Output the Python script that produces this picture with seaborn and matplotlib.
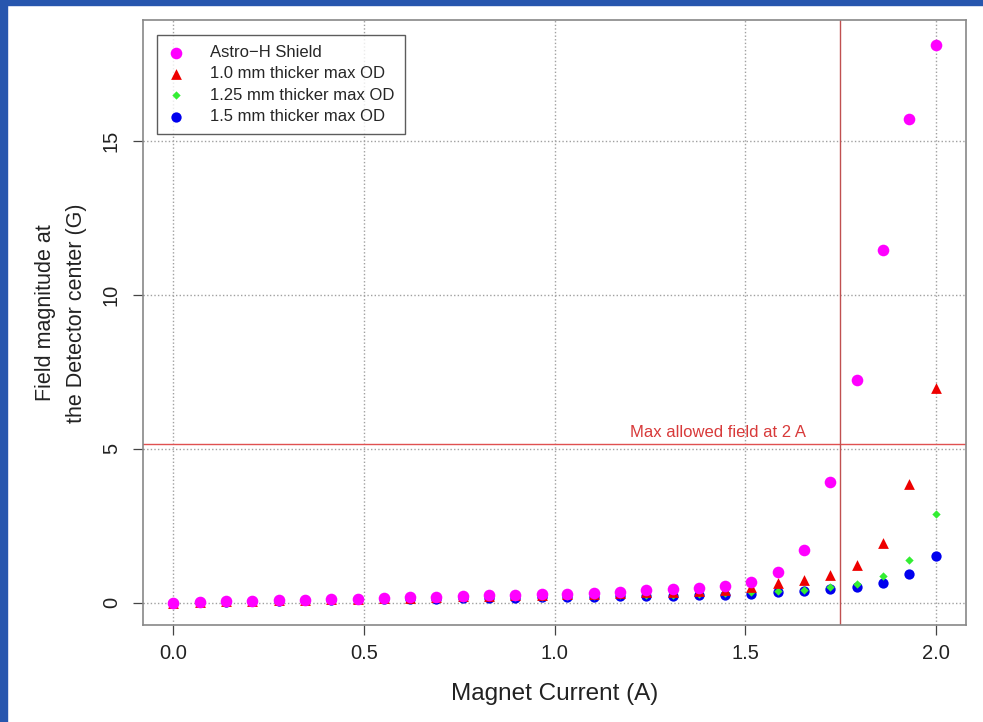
import matplotlib
matplotlib.use("Agg")
import matplotlib.pyplot as plt
from matplotlib.patches import Rectangle
import seaborn as sns
import pandas as pd

# magnet current (A)
current = [0.000, 0.069, 0.138, 0.207, 0.276, 0.345, 0.414, 0.483, 0.552, 0.621,
           0.690, 0.759, 0.828, 0.897, 0.966, 1.034, 1.103, 1.172, 1.241, 1.310,
           1.379, 1.448, 1.517, 1.586, 1.655, 1.724, 1.793, 1.862, 1.931, 2.000]

# field magnitude at detector center (G)
astro_h = [0.00, 0.02, 0.04, 0.06, 0.08, 0.09, 0.11, 0.13, 0.15, 0.17,
           0.19, 0.21, 0.23, 0.25, 0.27, 0.29, 0.32, 0.35, 0.40, 0.43,
           0.48, 0.54, 0.67, 1.00, 1.71, 3.92, 7.23, 11.45, 15.70, 18.12]
od_10 = [0.00, 0.02, 0.04, 0.05, 0.07, 0.09, 0.10, 0.12, 0.14, 0.16,
         0.18, 0.20, 0.21, 0.23, 0.25, 0.27, 0.29, 0.31, 0.33, 0.35,
         0.37, 0.41, 0.50, 0.62, 0.74, 0.88, 1.23, 1.95, 3.84, 6.97]
od_125 = [0.00, 0.02, 0.03, 0.05, 0.06, 0.08, 0.09, 0.11, 0.12, 0.13,
          0.15, 0.16, 0.17, 0.18, 0.19, 0.21, 0.22, 0.23, 0.24, 0.25,
          0.27, 0.30, 0.34, 0.38, 0.41, 0.50, 0.61, 0.85, 1.39, 2.89]
od_15 = [0.00, 0.01, 0.03, 0.04, 0.06, 0.07, 0.08, 0.10, 0.11, 0.12,
         0.13, 0.14, 0.15, 0.16, 0.17, 0.18, 0.19, 0.20, 0.21, 0.22,
         0.23, 0.26, 0.29, 0.34, 0.38, 0.43, 0.52, 0.65, 0.92, 1.52]

labels = ["Astro\u2212H Shield", "1.0 mm thicker max OD",
          "1.25 mm thicker max OD", "1.5 mm thicker max OD"]

max_field = 5.15
limit_current = 1.75

sns.set_style("white")
plt.rcParams['font.family'] = ['Liberation Sans', 'DejaVu Sans']

fig = plt.figure(figsize=(9.83, 7.22), dpi=100)
ax = fig.add_axes([143/983, 1 - 625/722, 823/983, 605/722])

ax.grid(True, color="#a0a0a0", linestyle=(0, (1, 1.6)), linewidth=1.0)
ax.set_axisbelow(True)

series = [
    (od_15, "#0000ee", "o", 55, labels[3]),
    (od_125, "#33ee33", "D", 18, labels[2]),
    (od_10, "#ee0000", "^", 60, labels[1]),
    (astro_h, "#ff00ff", "o", 70, labels[0]),
]
for vals, col, mk, size, lab in series:
    sns.scatterplot(x=current, y=vals, color=col, marker=mk, s=size,
                    linewidth=0, label=lab, ax=ax, zorder=3)

ax.axhline(max_field, color="#e05050", linewidth=1.0, zorder=2)
ax.axvline(limit_current, color="#c05050", linewidth=1.0, zorder=2)
ax.text(1.43, max_field + 0.12, "Max allowed field at 2 A", color="#d83a3a",
        fontsize=12, ha="center", va="bottom")

ax.set_xlim(-0.08, 2.08)
ax.set_ylim(-0.73, 18.93)
ax.set_xticks([0.0, 0.5, 1.0, 1.5, 2.0])
ax.set_xticklabels(["0.0", "0.5", "1.0", "1.5", "2.0"])
ax.set_yticks([0, 5, 10, 15])
ax.set_yticklabels(["0", "5", "10", "15"], rotation=90, va="center")
ax.tick_params(axis="both", direction="out", length=7, width=0.9,
               color="#444444", labelsize=14.5, labelcolor="#222222",
               bottom=True, left=True)
ax.tick_params(axis="x", pad=7)
ax.tick_params(axis="y", pad=9)
for sp in ax.spines.values():
    sp.set_color("#888888")
    sp.set_linewidth(1.2)

ax.set_xlabel("Magnet Current (A)", fontsize=17.5, color="#222222", labelpad=14)
fig.text(61/983, 1 - 313/722, "Field magnitude at\nthe Detector center (G)",
         rotation=90, ha="center", va="center", fontsize=15.5, color="#222222",
         multialignment="center", linespacing=1.65)

handles, labs = ax.get_legend_handles_labels()
order = [labs.index(l) for l in labels]
leg = ax.legend([handles[i] for i in order], [labs[i] for i in order],
                loc="upper left", bbox_to_anchor=(14/823, 1 - 15/605),
                fontsize=12, frameon=True, fancybox=False, borderpad=0.6,
                handletextpad=1.55, labelspacing=0.38, handlelength=1.05,
                borderaxespad=0)
leg.get_frame().set_edgecolor("#333333")
leg.get_frame().set_linewidth(1.0)

# slide background strips
fig.patches.append(Rectangle((0, 1 - 5/722), 1, 5/722, transform=fig.transFigure,
                             color="#2756ae", zorder=10))
fig.patches.append(Rectangle((0, 0), 7/983, 1, transform=fig.transFigure,
                             color="#2756ae", zorder=10))

fig.savefig("out.png", dpi=100)
